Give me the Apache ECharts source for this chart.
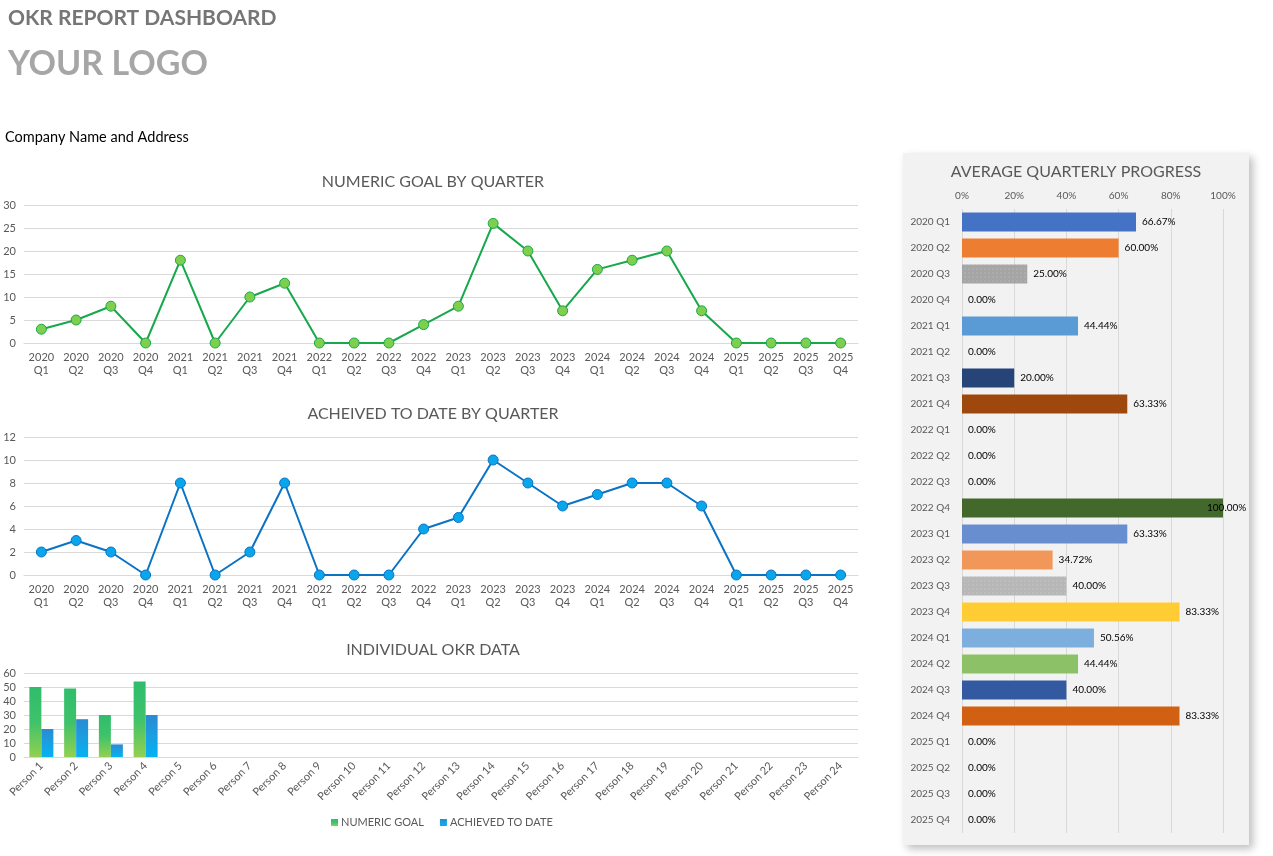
<!DOCTYPE html>
<html>
<head>
<meta charset="utf-8">
<script src="https://cdn.jsdelivr.net/npm/echarts@6/dist/echarts.min.js"></script>
<style>
  html, body { margin: 0; padding: 0; background: #fff; }
  #main { width: 1273px; height: 856px; }
</style>
</head>
<body>
<div id="main"></div>
<script>
// quarters used by the two line charts and the progress bars
var quarters = [];
var years = ['2020', '2021', '2022', '2023', '2024', '2025'];
years.forEach(function (y) {
  ['Q1', 'Q2', 'Q3', 'Q4'].forEach(function (q) { quarters.push(y + ' ' + q); });
});

var numericGoal = [3, 5, 8, 0, 18, 0, 10, 13, 0, 0, 0, 4, 8, 26, 20, 7, 16, 18, 20, 7, 0, 0, 0, 0];
var achievedToDate = [2, 3, 2, 0, 8, 0, 2, 8, 0, 0, 0, 4, 5, 10, 8, 6, 7, 8, 8, 6, 0, 0, 0, 0];

var persons = [];
for (var i = 1; i <= 24; i++) persons.push('Person ' + i);
var personGoal = [50, 49, 30, 54];
var personAchieved = [20, 27, 9, 30];

var progress = [66.67, 60, 25, 0, 44.44, 0, 20, 63.33, 0, 0, 0, 100,
                63.33, 34.72, 40, 83.33, 50.56, 44.44, 40, 83.33, 0, 0, 0, 0];
var progressColors = ['#4472c4', '#ed7d31', '#a5a5a5', '#ffc000', '#5b9bd5', '#70ad47',
                      '#264478', '#9e480e', '#636363', '#997300', '#255e91', '#43682b',
                      '#698ed0', '#f1975a', '#b7b7b7', '#ffcd33', '#7cafdd', '#8cc168',
                      '#335aa1', '#d26012', '#848484', '#ccaa33', '#3e75a6', '#5f8a3f'];

var FONT = 'Lato, "DejaVu Sans", sans-serif';
var GREY = '#595959';
var GRID_LINE = '#d9d9d9';

function quarterLabel(v) { return v.replace(' ', '\n'); }

function lineX(gridIndex) {
  return {
    type: 'category', gridIndex: gridIndex, data: quarters,
    axisLine: { lineStyle: { color: GRID_LINE } },
    axisTick: { show: false },
    axisLabel: { formatter: quarterLabel, color: GREY, fontSize: 11, fontFamily: FONT,
                 lineHeight: 13, margin: 8, interval: 0 }
  };
}
function valueY(gridIndex, max, step) {
  return {
    type: 'value', gridIndex: gridIndex, min: 0, max: max, interval: step,
    axisLine: { show: false }, axisTick: { show: false },
    axisLabel: { color: GREY, fontSize: 11, fontFamily: FONT, margin: 8 },
    splitLine: { lineStyle: { color: GRID_LINE } }
  };
}
function chartTitle(text, x, y, size, weight, color) {
  return { text: text, left: x, top: y, padding: 0, textAlign: x > 300 ? 'center' : 'left',
           textStyle: { fontSize: size, fontWeight: weight, color: color, fontFamily: FONT } };
}

var progressData = progress.map(function (v, i) {
  var item = { value: v, itemStyle: { color: progressColors[i] } };
  if (i === 2 || i === 14) {
    item.itemStyle.decal = { symbol: 'rect', symbolSize: 0.5, color: 'rgba(255,255,255,0.35)',
                             dashArrayX: [2, 2], dashArrayY: [2, 2] };
  }
  if (v === 100) item.label = { offset: [-22, 0] };
  return item;
});

var myChart = echarts.init(document.getElementById('main'));
var option = {
  animation: false,
  textStyle: { fontFamily: FONT },
  graphic: [{
    type: 'rect', z: -10,
    shape: { x: 903, y: 153, width: 346, height: 692 },
    style: { fill: '#f2f2f2', shadowBlur: 8, shadowOffsetX: 4, shadowOffsetY: 4,
             shadowColor: 'rgba(0,0,0,0.25)' }
  }],
  title: [
    chartTitle('OKR REPORT DASHBOARD', 8, 8, 21, 'bold', '#767676'),
    chartTitle('YOUR LOGO', 8, 47, 34, 'bold', '#a6a6a6'),
    chartTitle('Company Name and Address', 5, 130, 14.5, 'normal', '#000'),
    chartTitle('NUMERIC GOAL BY QUARTER', 433, 174, 16, 'normal', GREY),
    chartTitle('ACHEIVED TO DATE BY QUARTER', 433, 406, 16, 'normal', GREY),
    chartTitle('INDIVIDUAL OKR DATA', 433, 642, 16, 'normal', GREY),
    chartTitle('AVERAGE QUARTERLY PROGRESS', 1076, 164, 16, 'normal', GREY)
  ],
  legend: {
    data: ['NUMERIC GOAL', 'ACHIEVED TO DATE'],
    left: 326, top: 812,
    itemWidth: 7, itemHeight: 7, itemGap: 16, icon: 'rect',
    textStyle: { color: GREY, fontSize: 11, fontFamily: FONT, padding: [0, 0, 0, -2] }
  },
  grid: [
    { left: 24, top: 205, width: 834, height: 138 },
    { left: 24, top: 437, width: 834, height: 138 },
    { left: 24, top: 673, width: 834, height: 84 },
    { left: 962, top: 209, width: 261, height: 624 }
  ],
  xAxis: [
    lineX(0),
    lineX(1),
    {
      type: 'category', gridIndex: 2, data: persons,
      axisLine: { lineStyle: { color: GRID_LINE } }, axisTick: { show: false },
      axisLabel: { rotate: 45, interval: 0, color: GREY, fontSize: 11, fontFamily: FONT, margin: 7 }
    },
    {
      type: 'value', gridIndex: 3, position: 'top', min: 0, max: 100, interval: 20,
      axisLine: { show: false }, axisTick: { show: false },
      axisLabel: { formatter: '{value}%', color: GREY, fontSize: 10, fontFamily: FONT, margin: 8 },
      splitLine: { lineStyle: { color: GRID_LINE } }
    }
  ],
  yAxis: [
    valueY(0, 30, 5),
    valueY(1, 12, 2),
    valueY(2, 60, 10),
    {
      type: 'category', gridIndex: 3, data: quarters, inverse: true,
      axisLine: { show: false }, axisTick: { show: false },
      axisLabel: { color: GREY, fontSize: 10, fontFamily: FONT, margin: 12 }
    }
  ],
  series: [
    {
      name: 'Numeric goal', type: 'line', xAxisIndex: 0, yAxisIndex: 0, data: numericGoal,
      symbol: 'circle', symbolSize: 10,
      lineStyle: { color: '#16a84a', width: 2 },
      itemStyle: { color: '#7fcf4f', borderColor: '#16a84a', borderWidth: 1 }
    },
    {
      name: 'Achieved', type: 'line', xAxisIndex: 1, yAxisIndex: 1, data: achievedToDate,
      symbol: 'circle', symbolSize: 10,
      lineStyle: { color: '#0b72c4', width: 2 },
      itemStyle: { color: '#0aa6ec', borderColor: '#0b72c4', borderWidth: 1 }
    },
    {
      name: 'NUMERIC GOAL', type: 'bar', xAxisIndex: 2, yAxisIndex: 2, data: personGoal,
      barWidth: 12, barGap: '0%',
      itemStyle: { color: new echarts.graphic.LinearGradient(0, 0, 0, 1, [
        { offset: 0, color: '#2fbd6c' }, { offset: 0.5, color: '#3fc26a' }, { offset: 1, color: '#92d050' }
      ]) }
    },
    {
      name: 'ACHIEVED TO DATE', type: 'bar', xAxisIndex: 2, yAxisIndex: 2, data: personAchieved,
      barWidth: 12, barGap: '0%',
      itemStyle: { color: new echarts.graphic.LinearGradient(0, 0, 0, 1, [
        { offset: 0, color: '#2a8ad2' }, { offset: 0.5, color: '#1a9fe2' }, { offset: 1, color: '#05b2f2' }
      ]) }
    },
    {
      name: 'Progress', type: 'bar', xAxisIndex: 3, yAxisIndex: 3, data: progressData,
      barWidth: 19,
      label: { show: true, position: 'right', distance: 6, color: '#000', fontSize: 10,
               fontFamily: FONT, formatter: function (p) { return p.value.toFixed(2) + '%'; } }
    }
  ]
};

if (option && typeof option === "object") {
  myChart.setOption(option, true);
}
</script>
</body>
</html>
